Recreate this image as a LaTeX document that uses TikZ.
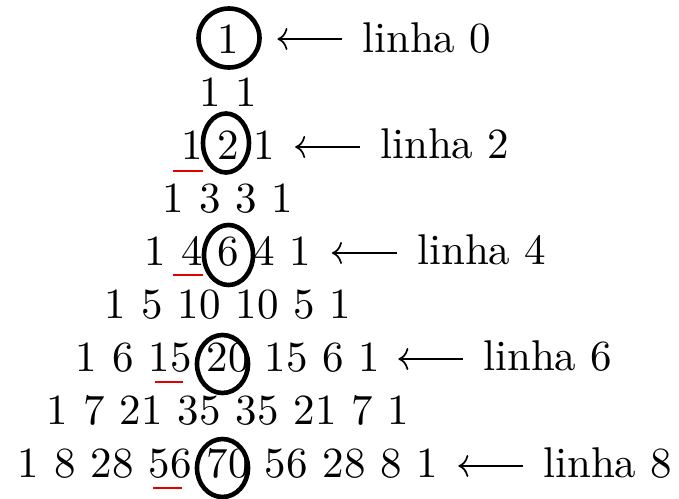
\documentclass[tikz,border=0pt]{standalone}
\usepackage{fontspec}
\setmainfont{lmroman10-regular}[Extension=.otf]
\usetikzlibrary{arrows.meta}
\begin{document}
\begin{tikzpicture}[x=1pt,y=-1pt,
  num/.style={inner sep=0pt, anchor=base, font=\fontsize{43}{50}\selectfont},
  lab/.style={inner sep=0pt, anchor=base west, font=\fontsize{43}{50}\selectfont},
  ring/.style={draw=black, line width=4.6pt},
  uline/.style={draw=red!90!black, line width=2.4pt},
  arr/.style={line width=1.7pt, -{Computer Modern Rightarrow[length=10pt,width=22pt]}}]
\useasboundingbox (0,0) rectangle (679,498);
% row 0
\node[num] (n0-0) at (228,53) {1};
% row 1
\node[num] (n1-0) at (209.9,106) {1};
\node[num] (n1-1) at (246.1,106) {1};
% row 2
\node[num] (n2-0) at (191.75,159) {1};
\node[num] (n2-1) at (228,159) {2};
\node[num] (n2-2) at (264.25,159) {1};
% row 3
\node[num] (n3-0) at (173.6,212) {1};
\node[num] (n3-1) at (209.9,212) {3};
\node[num] (n3-2) at (246.1,212) {3};
\node[num] (n3-3) at (282.4,212) {1};
% row 4
\node[num] (n4-0) at (155.5,265) {1};
\node[num] (n4-1) at (191.75,265) {4};
\node[num] (n4-2) at (228,265) {6};
\node[num] (n4-3) at (264.25,265) {4};
\node[num] (n4-4) at (300.5,265) {1};
% row 5
\node[num] (n5-0) at (115.6,318) {1};
\node[num] (n5-1) at (151.9,318) {5};
\node[num] (n5-2) at (199,318) {10};
\node[num] (n5-3) at (257,318) {10};
\node[num] (n5-4) at (304.1,318) {5};
\node[num] (n5-5) at (340.4,318) {1};
% row 6
\node[num] (n6-0) at (86.6,371) {1};
\node[num] (n6-1) at (122.9,371) {6};
\node[num] (n6-2) at (170,371) {15};
\node[num] (n6-3) at (228,371) {20};
\node[num] (n6-4) at (286,371) {15};
\node[num] (n6-5) at (333.1,371) {6};
\node[num] (n6-6) at (369.4,371) {1};
% row 7
\node[num] (n7-0) at (57.6,424) {1};
\node[num] (n7-1) at (93.9,424) {7};
\node[num] (n7-2) at (141,424) {21};
\node[num] (n7-3) at (199,424) {35};
\node[num] (n7-4) at (257,424) {35};
\node[num] (n7-5) at (315,424) {21};
\node[num] (n7-6) at (362.1,424) {7};
\node[num] (n7-7) at (398.4,424) {1};
% row 8
\node[num] (n8-0) at (28.6,477) {1};
\node[num] (n8-1) at (64.9,477) {8};
\node[num] (n8-2) at (112,477) {28};
\node[num] (n8-3) at (170,477) {56};
\node[num] (n8-4) at (228,477) {70};
\node[num] (n8-5) at (286,477) {56};
\node[num] (n8-6) at (344,477) {28};
\node[num] (n8-7) at (391.1,477) {8};
\node[num] (n8-8) at (427.4,477) {1};
% labels
\node[lab] (lab0) at (362,52) {linha 0};
\node[lab] (lab2) at (380,158) {linha 2};
\node[lab] (lab4) at (417,264) {linha 4};
\node[lab] (lab6) at (483,370) {linha 6};
\node[lab] (lab8) at (543,477) {linha 8};
% circles
\draw[ring] ([shift={(1,-15)}]n0-0.base) ellipse (30.5 and 29.5);
\draw[ring] ([shift={(-2,-16)}]n2-1.base) ellipse (23 and 29.5);
\draw[ring] ([shift={(0.5,-10)}]n4-2.base) ellipse (24.5 and 30);
\draw[ring] ([shift={(-5.5,-7)}]n6-3.base) ellipse (25.5 and 29);
\draw[ring] ([shift={(-5.5,-9)}]n8-4.base) ellipse (25.5 and 29);
% red underlines
\draw[uline] ([shift={(-19,12)}]n2-0.base) -- ([shift={(11,12)}]n2-0.base);
\draw[uline] ([shift={(-19,10)}]n4-1.base) -- ([shift={(11,10)}]n4-1.base);
\draw[uline] ([shift={(-15,11)}]n6-2.base) -- ([shift={(13,11)}]n6-2.base);
\draw[uline] ([shift={(-17,11)}]n8-3.base) -- ([shift={(12,11)}]n8-3.base);
% arrows
\draw[arr] ([shift={(-20,-13)}]lab0.base west) -- ([shift={(38.5,-14)}]n0-0.base east);
\draw[arr] ([shift={(-20,-11)}]lab2.base west) -- ([shift={(20,-12)}]n2-2.base east);
\draw[arr] ([shift={(-20,-11)}]lab4.base west) -- ([shift={(20.5,-12)}]n4-4.base east);
\draw[arr] ([shift={(-20,-11)}]lab6.base west) -- ([shift={(18,-12)}]n6-6.base east);
\draw[arr] ([shift={(-20,-11)}]lab8.base west) -- ([shift={(20,-11)}]n8-8.base east);
\end{tikzpicture}
\end{document}
